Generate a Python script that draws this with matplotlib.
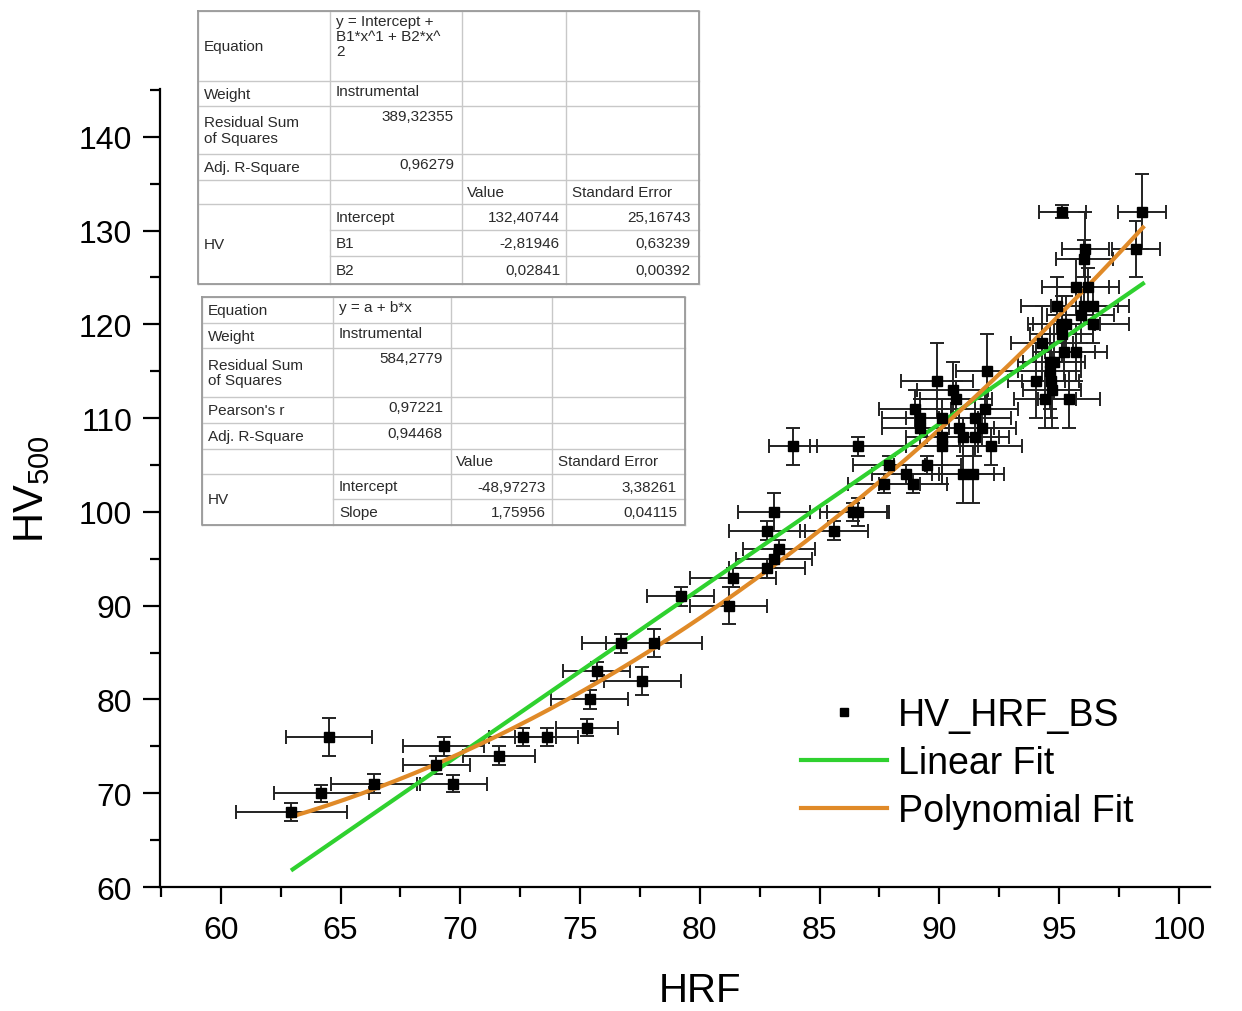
import numpy as np
import matplotlib
matplotlib.use("Agg")
import matplotlib.pyplot as plt
from matplotlib.ticker import MultipleLocator

plt.rcParams['font.family'] = ['Liberation Sans', 'DejaVu Sans']
plt.rcParams['mathtext.default'] = 'regular'

# measured points (HRF, HV500) with their error bars
hrf = [62.95, 64.5, 64.2, 66.4, 69.3, 69.0, 69.7, 71.6, 72.6, 73.6,
       75.3, 75.4, 75.7, 76.7, 78.1, 77.6, 79.2, 81.2, 81.4, 82.8,
       83.1, 83.3, 82.8, 83.1, 85.6, 86.4, 86.6, 83.9, 86.6, 87.7,
       87.9, 89.9, 92.0, 90.55, 90.7, 89.0, 89.2, 89.2, 90.1, 90.1,
       90.1, 90.8, 91.0, 91.5, 91.8, 91.9, 91.5, 92.15, 91.0, 91.4,
       89.5, 88.6, 88.9,
       95.14, 98.45, 98.2, 96.1, 96.05, 95.7, 96.2, 94.9, 96.05, 96.4,
       95.3, 95.9, 96.4, 95.1, 94.3, 95.1, 95.2, 95.7, 94.6, 94.8,
       94.6, 94.05, 94.65, 94.7, 94.4, 95.4]
hv = [68, 76, 70, 71, 75, 73, 71, 74, 76, 76,
      77, 80, 83, 86, 86, 82, 91, 90, 93, 94,
      95, 96, 98, 100, 98, 100, 100, 107, 107, 103,
      105, 114, 115, 113, 112, 111, 110, 109, 110, 108,
      107, 109, 108, 110, 109, 111, 108, 107, 104, 104,
      105, 104, 103,
      132, 132, 128, 128, 127, 124, 124, 122, 122, 122,
      120, 121, 120, 120, 118, 119, 117, 117, 116, 116,
      115, 114, 114, 113, 112, 112]
hrf_err = [2.3, 1.8, 2.0, 1.8, 1.7, 1.4, 1.4, 1.5, 1.4, 1.3,
           1.3, 1.6, 1.4, 1.6, 2.0, 1.6, 1.4, 1.6, 1.8, 1.6,
           1.6, 1.5, 1.6, 1.5, 1.4, 1.4, 1.3, 1.0, 2.0, 1.5,
           1.5, 1.5, 1.3, 1.5, 1.5, 1.5, 1.6, 1.6, 1.5, 1.5,
           1.5, 1.5, 1.5, 1.5, 1.4, 1.4, 1.4, 1.3, 1.3, 1.3,
           1.4, 1.4, 1.4,
           1.0, 1.0, 1.0, 1.0, 1.2, 1.4, 1.3, 1.5, 1.4, 1.5,
           1.4, 1.4, 1.5, 1.4, 1.3, 1.3, 1.3, 1.3, 1.3, 1.3,
           1.3, 1.2, 1.2, 1.2, 1.3, 1.3]
hv_err = [1.0, 2.0, 0.9, 1.0, 1.0, 1.0, 0.9, 1.0, 1.0, 1.0,
          0.9, 1.0, 1.0, 1.0, 1.5, 1.5, 1.0, 2.0, 1.0, 1.0,
          1.0, 1.0, 1.0, 2.0, 1.0, 1.0, 1.5, 2.0, 1.0, 1.0,
          1.0, 4.0, 4.0, 3.0, 2.0, 2.0, 2.0, 2.0, 2.0, 3.0,
          4.0, 2.0, 2.0, 2.0, 2.0, 2.0, 2.0, 2.0, 3.0, 3.0,
          1.0, 1.0, 1.0,
          0.7, 4.0, 3.0, 4.0, 2.0, 3.0, 2.0, 3.0, 2.0, 2.0,
          3.0, 3.0, 2.0, 3.0, 4.0, 3.0, 3.0, 3.0, 4.0, 4.0,
          4.0, 4.0, 4.0, 4.0, 3.0, 3.0]

# fit coefficients as printed in the tables
lin_a, lin_b = -48.97273, 1.75956
poly_c = [132.40744, -2.81946, 0.02841]
fit_range = (63.0, 98.5)

table1 = [
    ("Equation", "y = Intercept +\nB1*x^1 + B2*x^\n2"),
    ("Weight", "Instrumental"),
    ("Residual Sum\nof Squares", "389,32355"),
    ("Adj. R-Square", "0,96279"),
]
table1_params = [("Intercept", "132,40744", "25,16743"),
                 ("B1", "-2,81946", "0,63239"),
                 ("B2", "0,02841", "0,00392")]
table2 = [
    ("Equation", "y = a + b*x"),
    ("Weight", "Instrumental"),
    ("Residual Sum\nof Squares", "584,2779"),
    ("Pearson's r", "0,97221"),
    ("Adj. R-Square", "0,94468"),
]
table2_params = [("Intercept", "-48,97273", "3,38261"),
                 ("Slope", "1,75956", "0,04115")]

W, H = 1242, 1012
fig = plt.figure(figsize=(W / 100, H / 100), dpi=100)
ax = fig.add_axes([160 / W, 1 - 888 / H, 1050 / W, 798 / H])

ax.errorbar(hrf, hv, xerr=hrf_err, yerr=hv_err, fmt='none', ecolor='#222222',
            elinewidth=1.4, capsize=5, capthick=1.4, zorder=2)
ax.plot(hrf, hv, 's', color='black', ms=7, ls='none', zorder=4, label='HV_HRF_BS')

xf = np.linspace(fit_range[0], fit_range[1], 200)
ax.plot(xf, lin_a + lin_b * xf, color='#2fd12f', lw=3, zorder=3, label='Linear Fit')
ax.plot(xf, poly_c[0] + poly_c[1] * xf + poly_c[2] * xf ** 2, color='#e08a28', lw=3,
        zorder=3, label='Polynomial Fit')

ax.set_xlim(57.46, 101.3)
ax.set_ylim(60, 145.1)
ax.xaxis.set_major_locator(MultipleLocator(5))
ax.xaxis.set_minor_locator(MultipleLocator(2.5))
ax.yaxis.set_major_locator(MultipleLocator(10))
ax.yaxis.set_minor_locator(MultipleLocator(5))
for s in ['top', 'right']:
    ax.spines[s].set_visible(False)
for s in ['left', 'bottom']:
    ax.spines[s].set_linewidth(1.6)
ax.tick_params(which='major', direction='out', length=12, width=1.6, labelsize=23, pad=8)
ax.tick_params(which='minor', direction='out', length=7, width=1.6)
ax.set_xlabel('HRF', fontsize=29)
ax.xaxis.set_label_coords(0.514, -0.105)
ax.set_ylabel('HV$_{500}$', fontsize=30, labelpad=19)

ax.legend(loc='upper left', bbox_to_anchor=(767 / W, 1 - 664 / H),
          bbox_transform=fig.transFigure, frameon=False, fontsize=27,
          handlelength=2.3, handletextpad=0.3, labelspacing=0.33, markerscale=0.9)

# overlay in pixel coordinates for the two fit tables
ov = fig.add_axes([0, 0, 1, 1], zorder=10)
ov.set_xlim(0, W)
ov.set_ylim(H, 0)
ov.axis('off')

grid_c = '#c8c8c8'
txt_c = '#2a2a2a'
fs = 11


def draw_table(cols, rows, main, params):
    x0, x1 = cols[0], cols[-1]
    y0, y1 = rows[0], rows[-1]
    ov.fill_between([x0, x1], y0, y1, color='white', zorder=1)
    n_main = len(main)
    for i, r in enumerate(rows):
        if i > n_main + 1 and i < len(rows) - 1:
            ov.plot([cols[1], x1], [r, r], color=grid_c, lw=1, zorder=2)
        else:
            ov.plot([x0, x1], [r, r], color=grid_c, lw=1, zorder=2)
    for c in cols:
        ov.plot([c, c], [y0, y1], color=grid_c, lw=1, zorder=2)
    ov.plot([x0, x1, x1, x0, x0], [y0, y0, y1, y1, y0], color='#9a9a9a', lw=1.3, zorder=3)
    for i, (name, val) in enumerate(main):
        ya, yb = rows[i], rows[i + 1]
        ov.text(x0 + 6, (ya + yb) / 2, name, fontsize=fs, va='center', ha='left',
                color=txt_c, linespacing=1.1)
        if i < 2:
            ov.text(cols[1] + 6, ya + 3, val, fontsize=fs, va='top', ha='left',
                    color=txt_c, linespacing=1.1)
        else:
            ov.text(cols[2] - 8, ya + 3, val, fontsize=fs, va='top', ha='right',
                    color=txt_c)
    hr = rows[n_main]
    hb = rows[n_main + 1]
    ov.text(cols[2] + 5, (hr + hb) / 2, 'Value', fontsize=fs, va='center', ha='left',
            color=txt_c)
    ov.text(cols[3] + 6, (hr + hb) / 2, 'Standard Error', fontsize=fs, va='center',
            ha='left', color=txt_c)
    ov.text(x0 + 6, (rows[n_main + 1] + y1) / 2, 'HV', fontsize=fs, va='center',
            ha='left', color=txt_c)
    for j, (nm, v, e) in enumerate(params):
        ya, yb = rows[n_main + 1 + j], rows[n_main + 2 + j]
        yc = (ya + yb) / 2
        ov.text(cols[1] + 6, yc, nm, fontsize=fs, va='center', ha='left', color=txt_c)
        ov.text(cols[3] - 6, yc, v, fontsize=fs, va='center', ha='right', color=txt_c)
        ov.text(cols[4] - 8, yc, e, fontsize=fs, va='center', ha='right', color=txt_c)


draw_table([198, 330, 462, 566, 699], [12, 82, 107, 155, 181, 205, 231, 257, 285],
           table1, table1_params)
draw_table([202, 333, 451, 552, 685], [298, 324, 349, 398, 424, 450, 475, 500, 526],
           table2, table2_params)

fig.savefig('out.png', dpi=100)
